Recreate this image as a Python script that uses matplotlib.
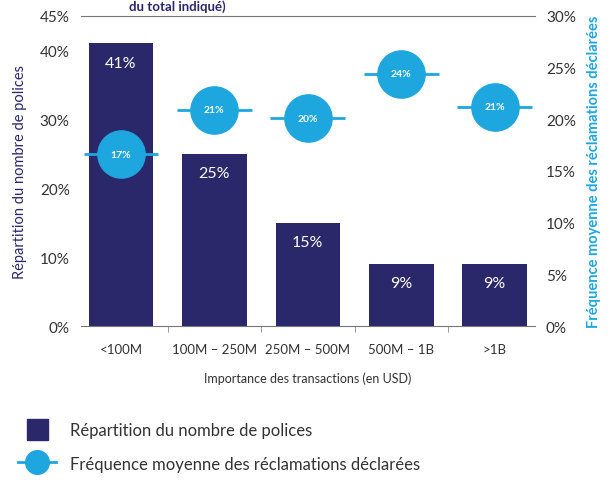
import numpy as np
import matplotlib.pyplot as plt
from matplotlib.lines import Line2D
from matplotlib.patches import Rectangle
from matplotlib.legend_handler import HandlerPatch

plt.rcParams['font.family'] = ['Lato', 'DejaVu Sans']

# dados
categorias = ['<100M', '100M – 250M', '250M – 500M', '500M – 1B', '>1B']
repartition = [41, 25, 15, 9, 9]            # eixo esquerdo (%)
frequence = [16.6, 20.9, 20.1, 24.4, 21.2]  # eixo direito (%)
ticks_esq = [0, 10, 20, 30, 40, 45]
ticks_dir = [0, 5, 10, 15, 20, 25, 30]

marinho = '#2b276b'
azul = '#1ea6de'
cinza = '#333333'

fig = plt.figure(figsize=(6.12, 4.81), dpi=100)
ax = fig.add_axes([0.132, 0.320, 0.742, 0.645])
x = np.arange(len(categorias))

barras = ax.bar(x, repartition, width=0.69, color=marinho, zorder=2)
for xi, v in zip(x, repartition):
    ax.annotate(f"{v}%", (xi, v), xytext=(0, -14), textcoords='offset points',
                ha='center', va='center', color='white', fontsize=11.5)

ax.set_xlim(-0.43, 4.43)
ax.set_ylim(0, 45)
ax.set_yticks(ticks_esq)
ax.set_yticklabels([f"{t}%" for t in ticks_esq], fontsize=11, color=cinza)
ax.set_xticks(x)
ax.set_xticklabels(categorias, fontsize=9.5, color=cinza)
ax.set_xticks(x[:-1] + 0.5, minor=True)
ax.tick_params(axis='x', which='major', length=0, pad=12)
ax.tick_params(axis='x', which='minor', length=4, color='#888888')
ax.tick_params(axis='y', length=0, pad=8)
ax.set_xlabel('Importance des transactions (en USD)', fontsize=9, color=cinza, labelpad=12)
ax.set_ylabel('Répartition du nombre de polices', fontsize=10.5, color=marinho, labelpad=9)
for s in ['left', 'right']:
    ax.spines[s].set_visible(False)
ax.spines['top'].set_color('#777777')
ax.spines['bottom'].set_color('#777777')

ax2 = ax.twinx()
ax2.set_ylim(0, 30)
ax2.set_yticks(ticks_dir)
ax2.set_yticklabels([f"{t}%" for t in ticks_dir], fontsize=11, color=cinza)
ax2.tick_params(axis='y', length=0, pad=8)
ax2.set_ylabel('Fréquence moyenne des réclamations déclarées', fontsize=10.5,
               color=azul, fontweight='bold', labelpad=8)
for s in ['left', 'right', 'top', 'bottom']:
    ax2.spines[s].set_visible(False)

ax2.hlines(frequence, x - 0.4, x + 0.4, color=azul, lw=2, zorder=3)
ax2.plot(x, frequence, 'o', ms=34, color=azul, zorder=4)
for xi, v in zip(x, frequence):
    ax2.text(xi, v, f"{round(v)}%", ha='center', va='center', color='white',
             fontsize=7.5, fontweight='bold', zorder=5)

# fim do título (cortado no original)
fig.text(0.29, 0.999, 'du total indiqué)', ha='center', va='top',
         fontsize=9.5, fontweight='bold', color=marinho)


def quadrado(legend, orig_handle, xdescent, ydescent, width, height, fontsize):
    lado = height * 1.15
    return Rectangle((width / 2 - lado / 2 - xdescent, height / 2 - lado / 2 - ydescent), lado, lado)


h1 = Rectangle((0, 0), 1, 1, color=marinho)
h2 = Line2D([0], [0], color=azul, lw=2, marker='o', ms=17)
fig.legend([h1, h2], ['Répartition du nombre de polices',
                      'Fréquence moyenne des réclamations déclarées'],
           loc='upper left', bbox_to_anchor=(0.005, 0.155), frameon=False,
           fontsize=12, handlelength=2.3, handleheight=1.3, labelspacing=0.95,
           handletextpad=0.8, labelcolor=cinza,
           handler_map={Rectangle: HandlerPatch(patch_func=quadrado)})

fig.savefig('out.png', dpi=100)
